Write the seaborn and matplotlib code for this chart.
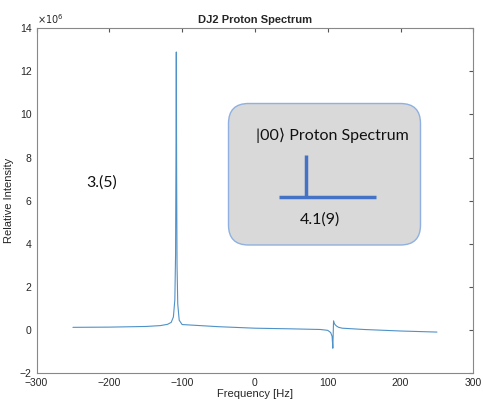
import matplotlib
matplotlib.use("Agg")
import matplotlib.pyplot as plt
import seaborn as sns
from matplotlib.patches import FancyBboxPatch

# spectrum samples (intensity in units of 1e6)
freq = [-250, -200, -150, -130, -120, -115, -112, -110, -109, -108.5, -108,
        -107.5, -107, -106, -104, -100, -50, 0, 50, 90, 100, 104, 106, 107,
        107.5, 108, 108.5, 109, 110, 112, 115, 120, 150, 200, 250]
intensity = [0.12, 0.13, 0.16, 0.20, 0.26, 0.35, 0.60, 1.4, 3.5, 7.5, 12.9,
             7.0, 3.0, 1.2, 0.45, 0.25, 0.15, 0.08, 0.05, 0.02, -0.02, -0.12,
             -0.3, -0.85, -0.2, 0.42, 0.35, 0.30, 0.25, 0.18, 0.12, 0.08,
             0.02, -0.05, -0.10]

x_ticks = [-300, -200, -100, 0, 100, 200, 300]
y_ticks = [-2, 0, 2, 4, 6, 8, 10, 12, 14]

sns.set_style("white")
plt.rcParams["font.family"] = ["Liberation Sans", "DejaVu Sans"]

fig = plt.figure(figsize=(4.83, 4.04), dpi=100)
ax = fig.add_axes([0.0756, 0.0767, 0.9044, 0.8533])

sns.lineplot(x=freq, y=intensity, ax=ax, color="#4f92c8", linewidth=0.8)

ax.set_xlim(-300, 300)
ax.set_ylim(-2, 14)
ax.set_xticks(x_ticks)
ax.set_yticks(y_ticks)
ax.tick_params(direction="in", top=True, right=True, length=3,
               labelsize=7.5, color="#555555", labelcolor="#262626")
for s in ax.spines.values():
    s.set_color("#888888")
    s.set_linewidth(0.8)
ax.set_xlabel("Frequency [Hz]", fontsize=8, color="#262626", labelpad=1)
ax.set_ylabel("Relative Intensity", fontsize=8, color="#262626", labelpad=4)
ax.set_title("DJ2 Proton Spectrum", fontsize=8, fontweight="bold", pad=4)
ax.text(0.0, 1.008, r"$\times10^6$", transform=ax.transAxes, fontsize=7,
        color="#262626", va="bottom", ha="left")

# inset annotation, drawn in figure pixel coordinates
ov = fig.add_axes([0, 0, 1, 1], facecolor="none")
ov.set_xlim(0, 483)
ov.set_ylim(404, 0)
ov.axis("off")
box = FancyBboxPatch((228.5 + 20, 103.5 + 20), 192 - 40, 141.5 - 40,
                     boxstyle="round,pad=20", facecolor="#d9d9d9",
                     edgecolor="#8fb0e0", linewidth=1.0)
ov.add_patch(box)
ov.plot([305.7, 305.7], [155, 196.7], color="#4472c4", linewidth=2.5,
        solid_capstyle="butt")
ov.plot([279, 375.7], [196.7, 196.7], color="#4472c4", linewidth=2.5,
        solid_capstyle="butt")
fam = ["Lato", "DejaVu Sans"]
ov.text(332, 135, "|00\u27e9 Proton Spectrum", fontsize=11.5, family=fam,
        ha="center", va="center", color="#111111")
ov.text(320, 220, "4.1(9)", fontsize=11.5, family=fam, ha="center",
        va="center", color="#111111")
ov.text(102, 183, "3.(5)", fontsize=11.5, family=fam, ha="center",
        va="center", color="#111111")

fig.savefig("out.png", dpi=100)
